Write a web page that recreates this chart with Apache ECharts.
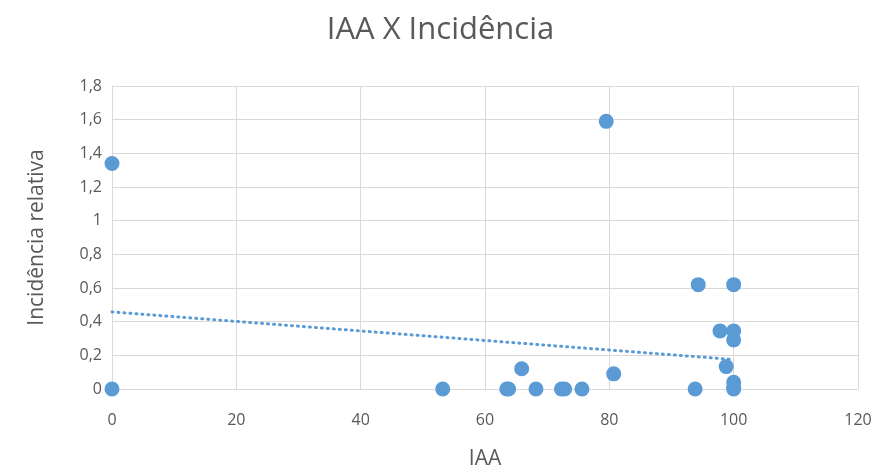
<!DOCTYPE html>
<html><head><meta charset="utf-8">
<script src="https://cdn.jsdelivr.net/npm/echarts@6/dist/echarts.min.js"></script>
<style>html,body{margin:0;padding:0;background:#fff}#c{width:881px;height:471px}</style>
</head><body><div id="c"></div>
<script>
const iaa = [0, 0, 53.2, 63.5, 63.8, 65.9, 68.2, 72.3, 72.8, 75.6, 79.5, 80.7, 93.8, 94.3, 97.8, 98.8, 100, 100, 100, 100, 100, 100];
const incid = [1.34, 0, 0, 0, 0, 0.12, 0, 0, 0, 0, 1.59, 0.09, 0, 0.62, 0.345, 0.133, 0.62, 0.345, 0.291, 0.04, 0.01, 0];
const trendX = [0, 100];
const trendY = [0.458, 0.175];
const xTicks = [0, 20, 40, 60, 80, 100, 120];
const yTicks = [0, 0.2, 0.4, 0.6, 0.8, 1, 1.2, 1.4, 1.6, 1.8];

const font = "'Open Sans', 'Noto Sans', sans-serif";
const txt = '#595959';
const chart = echarts.init(document.getElementById('c'));
chart.setOption({
  animation: false,
  textStyle: {fontFamily: font},
  title: {text: 'IAA X Incidência', left: 'center', top: 10,
    textStyle: {fontFamily: font, fontSize: 31, fontWeight: 'normal', color: txt}},
  grid: {left: 112, right: 23, top: 86, bottom: 82, outerBoundsMode: 'none', containLabel: false},
  xAxis: {type: 'value', min: xTicks[0], max: xTicks[xTicks.length-1], interval: 20,
    name: 'IAA', nameLocation: 'middle', nameGap: 60,
    nameTextStyle: {fontSize: 21, color: txt, fontFamily: font},
    axisLine: {show: true, lineStyle: {color: '#d9d9d9'}}, axisTick: {show: false},
    axisLabel: {color: txt, fontSize: 16, margin: 23, fontFamily: font},
    splitLine: {show: true, lineStyle: {color: '#d9d9d9', width: 1}}},
  yAxis: {type: 'value', min: 0, max: 1.8, interval: 0.2,
    name: 'Incidência relativa', nameLocation: 'middle', nameGap: 64,
    nameTextStyle: {fontSize: 21, color: txt, fontFamily: font},
    axisLine: {show: true, lineStyle: {color: '#d9d9d9'}}, axisTick: {show: false},
    axisLabel: {color: txt, fontSize: 16, margin: 10, fontFamily: font,
      formatter: v => String(Math.round(v*10)/10).replace('.', ',')},
    splitLine: {show: true, lineStyle: {color: '#d9d9d9', width: 1}}},
  series: [
    {type: 'line', data: trendX.map((x, i) => [x, trendY[i]]), symbol: 'none',
      lineStyle: {color: '#5b9bd5', width: 3, type: [1, 5], cap: 'round'}, z: 3},
    {type: 'scatter', data: iaa.map((x, i) => [x, incid[i]]), symbolSize: 15,
      itemStyle: {color: '#5b9bd5', opacity: 1}, z: 4}
  ]
});
</script></body></html>
